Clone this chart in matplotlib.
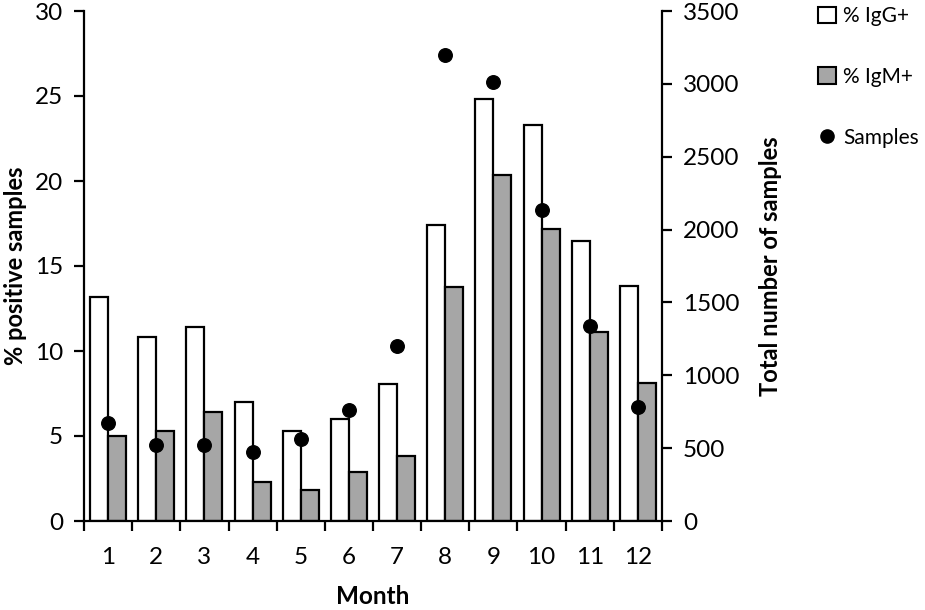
import matplotlib
matplotlib.use("Agg")
import matplotlib.pyplot as plt
from matplotlib.patches import Patch
from matplotlib.lines import Line2D
import numpy as np

plt.rcParams['font.family'] = ['Lato', 'DejaVu Sans']

months = [1, 2, 3, 4, 5, 6, 7, 8, 9, 10, 11, 12]
month_labels = [str(m) for m in months]
igg_pct = [13.2, 10.8, 11.4, 7.0, 5.3, 6.0, 8.05, 17.4, 24.8, 23.3, 16.45, 13.85]
igm_pct = [5.0, 5.3, 6.4, 2.3, 1.8, 2.9, 3.85, 13.75, 20.35, 17.15, 11.1, 8.1]
samples = [670, 520, 525, 475, 565, 760, 1200, 3200, 3015, 2135, 1335, 785]

fig = plt.figure(figsize=(9.25, 6.1), dpi=100)
ax = fig.add_axes([84/925, 1-521/610, (662-84)/925, 510/610])
ax2 = ax.twinx()

x = np.array(months, dtype=float)
w = 0.375
ax.bar(x - w/2, igg_pct, width=w, facecolor='white', edgecolor='black', linewidth=1.6, zorder=2)
ax.bar(x + w/2, igm_pct, width=w, facecolor='#A6A6A6', edgecolor='black', linewidth=1.6, zorder=2)
ax2.scatter(x, samples, s=95, color='black', zorder=3)

ax.set_xlim(0.5, 12.5)
ax.set_ylim(0, 30)
ax2.set_ylim(0, 3500)
ax.set_yticks([0, 5, 10, 15, 20, 25, 30])
ax2.set_yticks([0, 500, 1000, 1500, 2000, 2500, 3000, 3500])

ax.set_xticks(x)
ax.set_xticklabels(month_labels)
ax.set_xticks(np.arange(0.5, 13.0, 1.0), minor=True)
ax.tick_params(axis='x', which='major', length=0, pad=19, labelsize=17.5)
ax.tick_params(axis='x', which='minor', length=7, width=1.6, direction='out')
ax.tick_params(axis='y', length=7, width=1.6, direction='out', pad=8, labelsize=17.5)
ax2.tick_params(axis='y', length=7, width=1.6, direction='out', pad=8, labelsize=17.5)

for a in (ax, ax2):
    a.spines['top'].set_visible(False)
    for s in ('left', 'right', 'bottom'):
        a.spines[s].set_linewidth(1.6)
ax.spines['right'].set_visible(False)
ax2.spines['left'].set_visible(False)
ax2.spines['bottom'].set_visible(False)

ax.set_xlabel('Month', fontsize=17.5, fontweight='bold', labelpad=12)
ax.set_ylabel('% positive samples', fontsize=17, fontweight='bold', labelpad=6)
ax2.set_ylabel('Total number of samples', fontsize=17, fontweight='bold', labelpad=14)

handles = [
    Patch(facecolor='white', edgecolor='black', linewidth=1.5),
    Patch(facecolor='#A6A6A6', edgecolor='black', linewidth=1.5),
    Line2D([], [], marker='o', linestyle='none', color='black', markersize=9.5),
]
fig.legend(handles, ['% IgG+', '% IgM+', 'Samples'], loc='upper left',
           bbox_to_anchor=(0.878, 1.0), frameon=False, fontsize=15,
           labelspacing=1.95, handlelength=0.85, handleheight=0.85, handletextpad=0.35,
           borderaxespad=0.0, borderpad=0.3)

fig.savefig('out.png', dpi=100)
